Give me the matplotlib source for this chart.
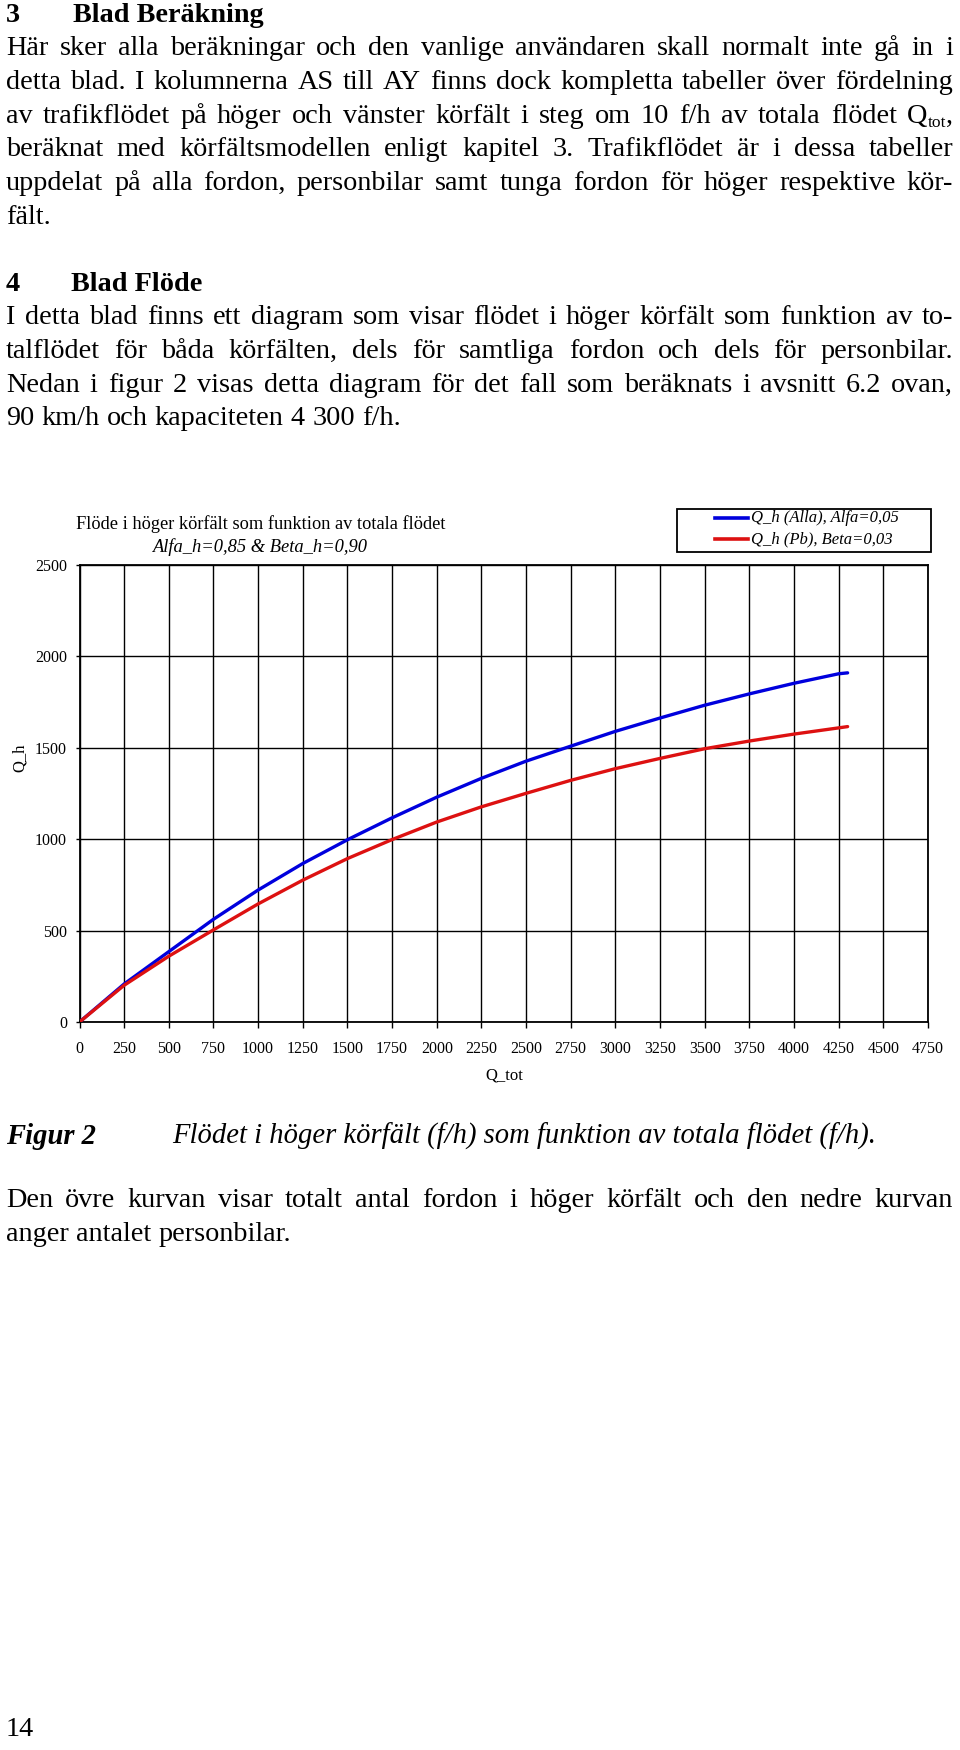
import matplotlib
matplotlib.use('Agg')
import matplotlib.pyplot as plt
from matplotlib.lines import Line2D
from matplotlib.patches import Rectangle

# ---------------- data ----------------
q_tot = [0, 250, 500, 750, 1000, 1250, 1500, 1750, 2000, 2250, 2500,
         2750, 3000, 3250, 3500, 3750, 4000, 4250, 4300]
q_h_alla = [0, 208, 385, 562, 722, 867, 997, 1117, 1230, 1333, 1427,
            1509, 1590, 1663, 1733, 1795, 1853, 1905, 1910]
q_h_pb = [0, 201, 360, 504, 646, 776, 894, 998, 1094, 1177, 1251,
          1322, 1386, 1442, 1495, 1537, 1575, 1609, 1616]
x_ticks = list(range(0, 4751, 250))
y_ticks = [0, 500, 1000, 1500, 2000, 2500]

legend_labels = ['Q_h (Alla), Alfa=0,05', 'Q_h (Pb), Beta=0,03']
chart_title = 'Flöde i höger körfält som funktion av totala flödet'
chart_subtitle = 'Alfa_h=0,85 & Beta_h=0,90'

para3 = [
    'Här sker alla beräkningar och den vanlige användaren skall normalt inte gå in i',
    'detta blad. I kolumnerna AS till AY finns dock kompletta tabeller över fördelning',
    'av trafikflödet på höger och vänster körfält i steg om 10 f/h av totala flödet',
    'beräknat med körfältsmodellen enligt kapitel 3. Trafikflödet är i dessa tabeller',
    'uppdelat på alla fordon, personbilar samt tunga fordon för höger respektive kör-',
    'fält.',
]
para4 = [
    'I detta blad finns ett diagram som visar flödet i höger körfält som funktion av to-',
    'talflödet för båda körfälten, dels för samtliga fordon och dels för personbilar.',
    'Nedan i figur 2 visas detta diagram för det fall som beräknats i avsnitt 6.2 ovan,',
    '90 km/h och kapaciteten 4 300 f/h.',
]
para5 = [
    'Den övre kurvan visar totalt antal fordon i höger körfält och den nedre kurvan',
    'anger antalet personbilar.',
]

# ---------------- figure ----------------
W, H = 960, 1750
SERIF = ['Liberation Serif', 'DejaVu Serif']
plt.rcParams['font.family'] = SERIF
fig = plt.figure(figsize=(W / 100, H / 100), dpi=100)
fig.patch.set_facecolor('white')
renderer = fig.canvas.get_renderer()

BODY = 20.3
CAP = 20.6


def fx(x):
    return x / W


def fy(y):
    return 1 - y / H


def seg_width(s, size, weight='normal', style='normal'):
    t = fig.text(0, 0, s, fontsize=size, weight=weight, style=style)
    w = t.get_window_extent(renderer).width
    t.remove()
    return w


def draw_words(words, y_base, left=6, right=953, justify=True, size=BODY,
               weight='normal', style='normal'):
    widths = []
    for w in words:
        widths.append(sum(seg_width(s, size * sc, weight, style) for s, sc, dy in w))
    space = seg_width('a a', size, weight, style) - 2 * seg_width('a', size, weight, style)
    if justify and len(words) > 1:
        gap = (right - left - sum(widths)) / (len(words) - 1)
    else:
        gap = space
    x = left
    for w, wd in zip(words, widths):
        xx = x
        for s, sc, dy in w:
            fig.text(fx(xx), fy(y_base + dy), s, fontsize=size * sc, weight=weight,
                     style=style, ha='left', va='baseline')
            xx += seg_width(s, size * sc, weight, style)
        x += wd + gap


def line_words(s):
    return [[(w, 1.0, 0)] for w in s.split(' ')]


def paragraph(lines, y0, step=33.8, extra_last=None):
    for i, ln in enumerate(lines):
        words = line_words(ln)
        if extra_last is not None and i == extra_last[0]:
            words.append(extra_last[1])
        draw_words(words, y0 + i * step, justify=(i < len(lines) - 1))


# headings
fig.text(fx(6), fy(22), '3', fontsize=BODY, weight='bold', ha='left', va='baseline')
fig.text(fx(73), fy(22), 'Blad Beräkning', fontsize=BODY, weight='bold', ha='left', va='baseline')
paragraph(para3, 55, extra_last=(2, [('Q', 1.0, 0), ('tot', 0.62, 4), (',', 1.0, 0)]))

fig.text(fx(6), fy(291), '4', fontsize=BODY, weight='bold', ha='left', va='baseline')
fig.text(fx(71), fy(291), 'Blad Flöde', fontsize=BODY, weight='bold', ha='left', va='baseline')
paragraph(para4, 324)

# caption
fig.text(fx(6), fy(1144), 'Figur 2', fontsize=CAP, weight='bold', style='italic',
         ha='left', va='baseline')
fig.text(fx(172), fy(1144),
         'Flödet i höger körfält (f/h) som funktion av totala flödet (f/h).',
         fontsize=CAP, style='italic', ha='left', va='baseline')
paragraph(para5, 1207)
fig.text(fx(6), fy(1736), '14', fontsize=BODY, ha='left', va='baseline')

# ---------------- chart ----------------
ax_l, ax_r, ax_t, ax_b = 79.5, 928, 565, 1022
ax = fig.add_axes([fx(ax_l), fy(ax_b), (ax_r - ax_l) / W, (ax_b - ax_t) / H])
ax.set_xlim(0, 4750)
ax.set_ylim(0, 2500)
ax.set_xticks(x_ticks)
ax.set_yticks(y_ticks)
ax.set_xticklabels([str(v) for v in x_ticks])
ax.set_yticklabels([str(v) for v in y_ticks])
ax.grid(True, color='black', linewidth=1.0)
ax.set_axisbelow(True)
for sp in ax.spines.values():
    sp.set_color('black')
    sp.set_linewidth(1.3)
ax.tick_params(axis='both', direction='out', width=1.0, colors='black',
               labelsize=11.5)
ax.tick_params(axis='x', length=4.5, pad=9)
ax.tick_params(axis='y', length=3.0, pad=6)

BLUE = '#0000dd'
RED = '#dd1111'
ax.plot(q_tot, q_h_alla, color=BLUE, linewidth=2.4, solid_capstyle='round', zorder=3)
ax.plot(q_tot, q_h_pb, color=RED, linewidth=2.4, solid_capstyle='round', zorder=3)

fig.text(fx(504), fy(1075), 'Q_tot', fontsize=12, ha='center', va='center')
fig.text(fx(20), fy(758), 'Q_h', fontsize=12, rotation=90, ha='center', va='center')

fig.text(fx(261), fy(524), chart_title, fontsize=13.2, ha='center', va='center')
fig.text(fx(260), fy(547), chart_subtitle, fontsize=13.3, style='italic',
         ha='center', va='center')

# legend box
fig.patches.append(Rectangle((fx(677), fy(552)), (931 - 677) / W, (552 - 509) / H,
                             transform=fig.transFigure, facecolor='white',
                             edgecolor='black', linewidth=1.3, zorder=5))
for yy, col, lab in [(517.7, BLUE, legend_labels[0]), (539.3, RED, legend_labels[1])]:
    fig.lines.append(Line2D([fx(715), fx(748)], [fy(yy), fy(yy)], transform=fig.transFigure,
                            color=col, linewidth=2.6, zorder=6))
    fig.text(fx(751), fy(yy), lab, fontsize=12, style='italic', ha='left',
             va='center', zorder=6)

fig.savefig('out.png', dpi=100, facecolor='white')
